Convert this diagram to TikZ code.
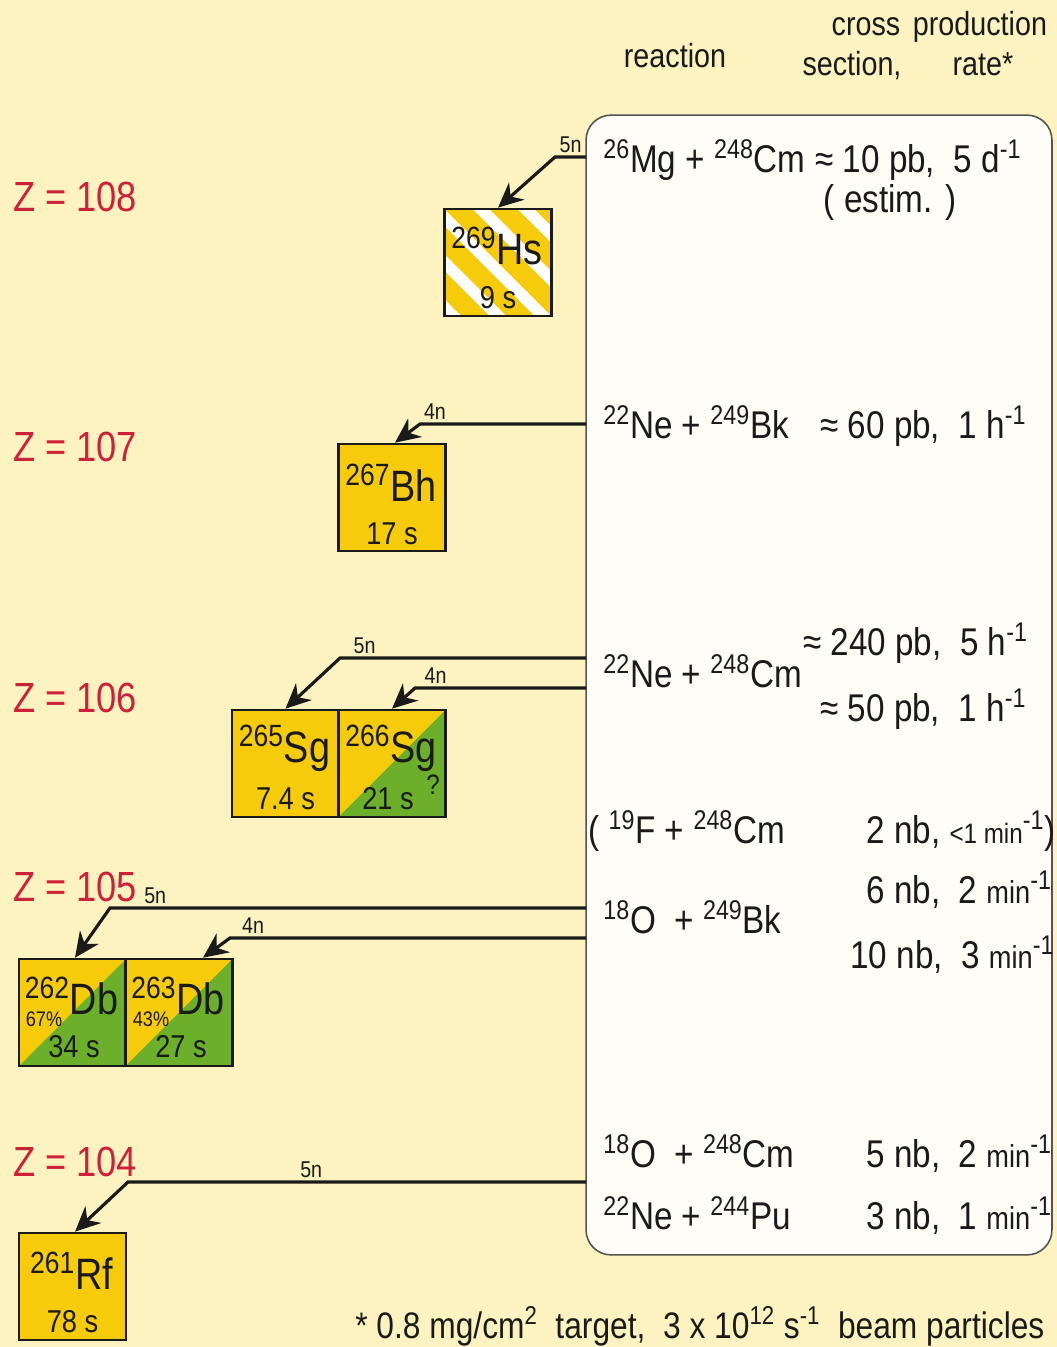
\documentclass[tikz,border=0pt]{standalone}
\usepackage{fontspec}
\setmainfont{Liberation Sans}[FakeStretch=0.86]
\usetikzlibrary{calc,arrows.meta}
\definecolor{paper}{HTML}{FCF3C0}
\definecolor{zred}{HTML}{CE2038}
\definecolor{gold}{HTML}{F6CC0A}
\definecolor{leaf}{HTML}{6BAF2A}
\definecolor{ink}{HTML}{1A1A1A}
\definecolor{card}{HTML}{FEFDF8}
\newcommand\iso[2]{\textsuperscript{#1}#2}
\newcommand\inv{\textsuperscript{-1}}
\newcommand\mn{{\fontsize{18}{21}\selectfont min}}
\tikzset{
  nuc/.style={draw=ink,line width=1.5pt,minimum size=2.14cm,inner sep=0pt,fill=gold},
  halfsplit/.style={path picture={\fill[leaf] (path picture bounding box.south west) -- (path picture bounding box.north east) -- (path picture bounding box.south east) -- cycle;}},
  hatched/.style={fill=white,path picture={
    \foreach \k in {-4,...,3}
      \fill[gold] ($(path picture bounding box.north west)+(\k*45,0)$) -- ++(28,0) -- ++(150,150) -- ++(-28,0) -- cycle;}},
  sym/.style={inner sep=0pt,font=\fontsize{25}{29}\selectfont,text=ink},
  hl/.style={inner sep=0pt,font=\fontsize{18}{21}\selectfont,text=ink},
  pct/.style={inner sep=0pt,font=\fontsize{12}{14}\selectfont,text=ink},
  nlab/.style={inner sep=1.5pt,above,font=\fontsize{13}{15}\selectfont,text=ink},
  zlab/.style={font=\fontsize{24}{28}\selectfont,text=zred},
  hdr/.style={anchor=base,inner sep=0pt,font=\fontsize{19}{22}\selectfont,text=ink},
  rtext/.style={anchor=base west,inner sep=0pt,font=\fontsize{22}{26}\selectfont,text=ink},
  flow/.style={-{Stealth[length=5mm,width=4.6mm]},ink,line width=1.8pt},
}
\begin{document}
\begin{tikzpicture}[x=0.02cm,y=-0.02cm]
\useasboundingbox (0,0) rectangle (1057,1347);
\fill[paper] (0,0) rectangle (1057,1347);
% column heads
\node[hdr] (hreac) at (675,67) {reaction};
\node[hdr] (hcross) at (866,35) {cross};
\node[hdr] (hsect) at (852,75) {section,};
\node[hdr] (hprod) at (980,35) {production};
\node[hdr] (hrate) at (983,75) {rate*};
\node[draw=ink!75,line width=0.9pt,fill=card,rounded corners=0.5cm,minimum width=9.32cm,minimum height=22.8cm] (rbox) at (819,685) {};
% charge numbers
\foreach \z/\y in {108/197,107/447,106/698,105/887,104/1162}
  \node[zlab] (z\z) at (75,\y) {Z = \z};
% nuclides
\node[nuc,hatched] (hs) at (498,262.5) {};
\node[sym] (hsname) at (497,246) {\iso{269}{Hs}};
\node[hl] (hslife) at (498,298) {9 s};
\node[nuc] (bh) at (392,497.5) {};
\node[sym] (bhname) at (391,483) {\iso{267}{Bh}};
\node[hl] (bhlife) at (392,534) {17 s};
\node[nuc] (sga) at (285.5,763.5) {};
\node[sym] (sganame) at (284.5,748) {\iso{265}{Sg}};
\node[hl] (sgalife) at (285.5,799) {7.4 s};
\node[nuc,halfsplit] (sgb) at (392,763.5) {};
\node[sym] (sgbname) at (391,748) {\iso{266}{Sg}};
\node[hl] (sgblife) at (388,799) {21 s};
\node[pct,font=\fontsize{16}{18}\selectfont] (sgbq) at (433,785) {?};
\node[nuc,halfsplit] (dba) at (72.5,1012.5) {};
\node[sym] (dbaname) at (71.5,996) {\iso{262}{Db}};
\node[pct] (dbapct) at (44,1019) {67\%};
\node[hl] (dbalife) at (74,1047) {34 s};
\node[nuc,halfsplit] (dbb) at (179,1012.5) {};
\node[sym] (dbbname) at (178,996) {\iso{263}{Db}};
\node[pct] (dbbpct) at (151,1019) {43\%};
\node[hl] (dbblife) at (181,1047) {27 s};
\node[nuc] (rf) at (72.5,1286.5) {};
\node[sym] (rfname) at (71.5,1271) {\iso{261}{Rf}};
\node[hl] (rflife) at (72.5,1322) {78 s};
% evaporation channels
\coordinate (in108) at (586,157);
\coordinate (in107) at (586,424);
\coordinate (in106a) at (586,658);
\coordinate (in106b) at (586,688);
\coordinate (in105a) at (586,908);
\coordinate (in105b) at (586,938);
\coordinate (in104) at (586,1182);
\draw[flow] (in108) -- node[nlab,pos=.5]{5n} (555,157) -- (hs.north);
\draw[flow] (in107) -- node[nlab,pos=.91]{4n} (420,424) -- ([xshift=0.06cm]bh.north);
\draw[flow] (in106a) -- node[nlab,pos=.9]{5n} (340,658) -- (sga.north);
\draw[flow] (in106b) -- node[nlab,pos=.88]{4n} (415,688) -- (sgb.north);
\draw[flow] (in105a) -- node[nlab,pos=.905]{5n} (110,908) -- ([xshift=0.05cm]dba.north);
\draw[flow] (in105b) -- node[nlab,pos=.935]{4n} (230,938) -- ([xshift=0.48cm]dbb.north);
\draw[flow] (in104) -- node[nlab,pos=.6]{5n} (128,1182) -- ([xshift=0.05cm]rf.north);
% reactions and rates
\node[rtext] (re108) at (603,172) {\iso{26}{Mg} + \iso{248}{Cm}};
\node[rtext] (xs108) at (815,172) {≈ 10 pb,~ 5 d\inv};
\node[rtext,anchor=base] (es108) at (890,212) {( estim. )};
\node[rtext] (re107) at (603,438) {\iso{22}{Ne} + \iso{249}{Bk}};
\node[rtext] (xs107) at (820,438) {≈ 60 pb,~ 1 h\inv};
\node[rtext] (re106) at (603,687) {\iso{22}{Ne} + \iso{248}{Cm}};
\node[rtext] (xs106a) at (803,655) {≈ 240 pb,~ 5 h\inv};
\node[rtext] (xs106b) at (820,721) {≈ 50 pb,~ 1 h\inv};
\node[rtext] (re105a) at (588,843) {( \iso{19}{F} + \iso{248}{Cm}};
\node[rtext] (xs105a) at (866,843) {2 nb, {\fontsize{16}{19}\selectfont <1 min}\inv)};
\node[rtext] (re105b) at (603,933) {\iso{18}{O} ~+ \iso{249}{Bk}};
\node[rtext] (xs105b) at (866,903) {6 nb,~ 2 \mn\inv};
\node[rtext] (xs105c) at (850,968) {10 nb,~ 3 \mn\inv};
\node[rtext] (re104a) at (603,1167) {\iso{18}{O} ~+ \iso{248}{Cm}};
\node[rtext] (xs104a) at (866,1167) {5 nb,~ 2 \mn\inv};
\node[rtext] (re104b) at (603,1229) {\iso{22}{Ne} + \iso{244}{Pu}};
\node[rtext] (xs104b) at (866,1229) {3 nb,~ 1 \mn\inv};
\node[rtext,font=\fontsize{21}{25}\selectfont] (note) at (355,1338) {* 0.8 mg/cm\textsuperscript{2}~ target,~ 3 x 10\textsuperscript{12} s\textsuperscript{-1}~ beam particles};
\end{tikzpicture}
\end{document}
